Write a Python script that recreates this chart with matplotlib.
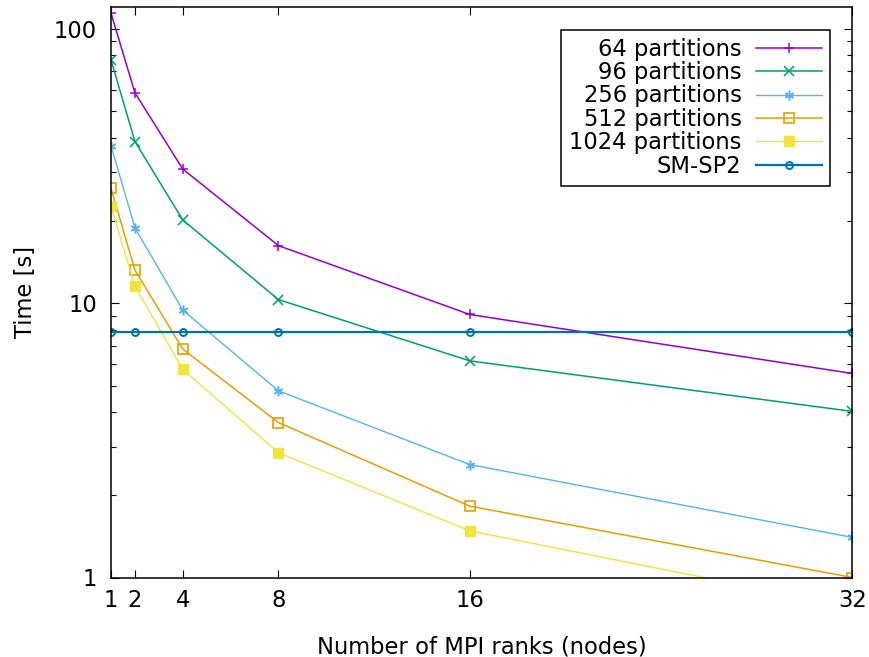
import numpy as np
import matplotlib
matplotlib.use('Agg')
import matplotlib.pyplot as plt
from matplotlib.ticker import LogLocator, NullFormatter, FixedLocator

# MPI ranks (nodes)
ranks = [1, 2, 4, 8, 16, 32]

# run times [s]
t_64 = [114, 58.4, 30.8, 16.2, 9.09, 5.54]
t_96 = [77, 38.8, 20.1, 10.3, 6.16, 4.03]
t_256 = [37.5, 18.8, 9.43, 4.79, 2.58, 1.40]
t_512 = [26.2, 13.2, 6.8, 3.67, 1.82, 1.0]
t_1024 = [22.5, 11.5, 5.74, 2.85, 1.48, 0.78]
t_smsp2 = [7.82, 7.82, 7.82, 7.82, 7.82, 7.82]

labels = ['64 partitions', '96 partitions', '256 partitions',
          '512 partitions', '1024 partitions', 'SM-SP2']

plt.rcParams['font.family'] = ['DejaVu Sans']
plt.rcParams['font.size'] = 16.3

fig = plt.figure(figsize=(8.69, 6.57), dpi=100)
ax = fig.add_axes([111/869, (657-577.5)/657, (852.5-111)/869, (577.5-7)/657])

# style per series: colour, marker, filled?, line width
styles = [
	('#9400D3', '+', True, 1.1),
	('#009E73', 'x', True, 1.1),
	('#56B4E9', (6, 2, 0), True, 1.0),
	('#E69F00', 's', False, 1.1),
	('#F0E442', 's', True, 1.0),
	('#0072B2', 'o', False, 1.6),
]
series = [t_64, t_96, t_256, t_512, t_1024, t_smsp2]

for vals, lab, (col, mk, filled, lw) in zip(series, labels, styles):
	if mk == 's' and not filled:
		ax.plot(ranks, vals, color=col, lw=lw, marker='s', ms=6.5,
			mfc='none', mec=col, mew=1.2, label=lab)
	elif mk == 's':
		ax.plot(ranks, vals, color=col, lw=lw, marker='s', ms=6.5,
			mfc=col, mec=col, label=lab)
	elif mk == 'o':
		ax.plot(ranks, vals, color=col, lw=lw, marker='o', ms=5,
			mfc='none', mec=col, mew=1.4, label=lab)
	else:
		ax.plot(ranks, vals, color=col, lw=lw, marker=mk, ms=7,
			mew=1.1, label=lab)

ax.set_yscale('log')
ax.set_xlim(1, 32)
ax.set_ylim(1, 120)

ax.xaxis.set_major_locator(FixedLocator(ranks))
ax.set_xticklabels([str(r) for r in ranks])
ax.xaxis.set_minor_locator(FixedLocator([]))
ax.yaxis.set_major_locator(FixedLocator([1, 10, 100]))
ax.set_yticklabels(['1', '10', '100'])
ax.yaxis.set_minor_locator(LogLocator(base=10, subs=np.arange(2, 10)))
ax.yaxis.set_minor_formatter(NullFormatter())

ax.tick_params(which='both', direction='in', top=True, right=True, width=0.8)
ax.tick_params(which='major', length=6)
ax.tick_params(which='minor', length=3.5)
ax.tick_params(axis='x', pad=8)
ax.tick_params(axis='y', pad=10)
for sp in ax.spines.values():
	sp.set_linewidth(1.1)

ax.set_xlabel('Number of MPI ranks (nodes)', labelpad=17)
ax.set_ylabel('Time [s]', labelpad=12)

leg = ax.legend(loc='upper right', markerfirst=False, numpoints=1,
	fancybox=False, edgecolor='black', framealpha=1,
	handlelength=2.9, handletextpad=0.65, labelspacing=0.02,
	borderpad=0.35, borderaxespad=1.0)
leg.get_frame().set_linewidth(1.1)

fig.savefig('out.png', dpi=100)
